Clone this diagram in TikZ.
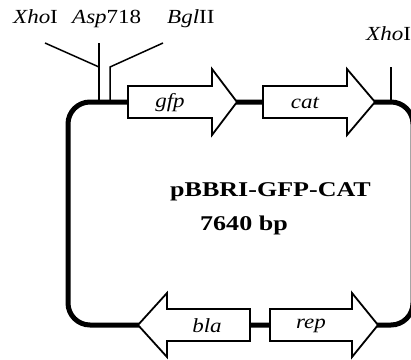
\documentclass[tikz,border=0pt]{standalone}
\usepackage{fontspec}
\usepackage{graphicx}
\setmainfont{Liberation Serif}
\newcommand{\wlab}[1]{\scalebox{1.15}[1]{#1}}
\newcommand{\wtit}[1]{\scalebox{1.24}[1]{#1}}
\begin{document}
\begin{tikzpicture}[x=1pt,y=-1pt,
  backbone/.style={line width=5pt, rounded corners=22pt},
  gene/.style={draw, fill=white, line width=1.8pt, line join=miter},
  site/.style={line width=1.5pt},
  genelabel/.style={font=\fontsize{20}{24}\selectfont\itshape, inner sep=0pt},
  sitelabel/.style={font=\fontsize{20}{24}\selectfont, inner sep=0pt, anchor=base west},
  title/.style={font=\fontsize{21}{25}\selectfont\bfseries, inner sep=0pt, anchor=base west}]
\useasboundingbox (0,0) rectangle (411,359);
% plasmid backbone
\draw[backbone] (68,102) rectangle (413,325);
% restriction sites
\coordinate (x1a) at (45,43);
\coordinate (x1b) at (99,67);
\coordinate (a1a) at (99,43);
\coordinate (a1b) at (99,103);
\coordinate (b1a) at (163,43);
\coordinate (b1b) at (110,67);
\coordinate (b1c) at (110,103);
\coordinate (x2a) at (391,67);
\coordinate (x2b) at (391,103);
\draw[site] (x1a) -- (x1b);
\draw[site] (a1a) -- (a1b);
\draw[site] (b1a) -- (b1b) -- (b1c);
\draw[site] (x2a) -- (x2b);
\node[sitelabel] (xho1) at (13,23) {\wlab{\textit{Xho}I}};
\node[sitelabel] (asp) at (72,23) {\wlab{\textit{Asp}718}};
\node[sitelabel] (bgl) at (167,23) {\wlab{\textit{Bgl}II}};
\node[sitelabel] (xho2) at (366,40) {\wlab{\textit{Xho}I}};
% genes
\draw[gene] (128,86) -- (212,86) -- (212,69) -- (237,102) -- (212,135) -- (212,118) -- (128,118) -- cycle;
\draw[gene] (263,86) -- (347,86) -- (347,69) -- (375,102) -- (347,135) -- (347,118) -- (263,118) -- cycle;
\draw[gene] (250,309) -- (167,309) -- (167,293) -- (138,325) -- (167,357) -- (167,341) -- (250,341) -- cycle;
\draw[gene] (270,309) -- (352,309) -- (352,293) -- (378,325) -- (352,357) -- (352,341) -- (270,341) -- cycle;
\node[genelabel] (gfp) at (170,103) {\wlab{gfp}};
\node[genelabel] (cat) at (305,103) {\wlab{cat}};
\node[genelabel] (bla) at (207,326) {\wlab{bla}};
\node[genelabel] (rep) at (311,326) {\wlab{rep}};
% title
\node[title] (name) at (170,196) {\wtit{pBBRI-GFP-CAT}};
\node[title] (size) at (200,230) {\wtit{7640 bp}};
\end{tikzpicture}
\end{document}
